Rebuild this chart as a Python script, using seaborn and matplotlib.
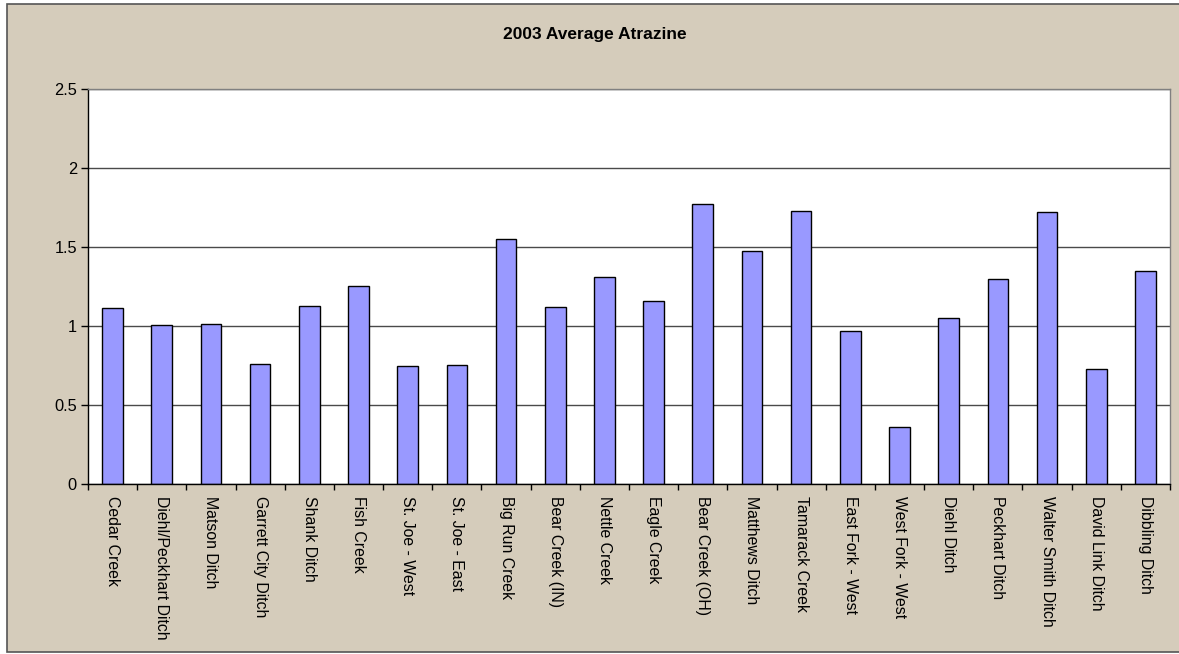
import matplotlib
matplotlib.use("Agg")
import matplotlib.pyplot as plt
from matplotlib.patches import Rectangle
from matplotlib.ticker import FixedLocator
import seaborn as sns
import pandas as pd

sites = [
    "Cedar Creek", "Diehl/Peckhart Ditch", "Matson Ditch", "Garrett City Ditch",
    "Shank Ditch", "Fish Creek", "St. Joe - West", "St. Joe - East",
    "Big Run Creek", "Bear Creek (IN)", "Nettle Creek", "Eagle Creek",
    "Bear Creek (OH)", "Matthews Ditch", "Tamarack Creek", "East Fork - West",
    "West Fork - West", "Diehl Ditch", "Peckhart Ditch", "Walter Smith Ditch",
    "David Link Ditch", "Dibbling Ditch",
]
atrazine = [
    1.117, 1.009, 1.015, 0.758, 1.129, 1.252, 0.749, 0.756,
    1.550, 1.123, 1.307, 1.161, 1.773, 1.474, 1.727, 0.971,
    0.361, 1.053, 1.298, 1.721, 0.726, 1.345,
]
y_ticks = [0, 0.5, 1, 1.5, 2, 2.5]
y_tick_labels = ["0", "0.5", "1", "1.5", "2", "2.5"]
title = "2003 Average Atrazine"

sns.set_style("white")
plt.rcParams["font.family"] = ["Liberation Sans", "DejaVu Sans"]
plt.rcParams["text.color"] = "black"
plt.rcParams["xtick.color"] = "black"
plt.rcParams["ytick.color"] = "black"
plt.rcParams["xtick.labelcolor"] = "black"
plt.rcParams["ytick.labelcolor"] = "black"

W, H = 1179, 654
fig = plt.figure(figsize=(W / 100, H / 100), dpi=100, facecolor="white")

# chart-area panel with thin border
panel_bg = "#D5CCBB"
fig.patches.append(Rectangle((7 / W, 2 / H), 1.2, (650 - 2) / H,
                             transform=fig.transFigure, facecolor=panel_bg,
                             edgecolor="#555555", linewidth=1.2, zorder=-10))

left, right, top, bottom = 88, 1170, 89, 484
ax = fig.add_axes([left / W, 1 - bottom / H, (right - left) / W, (bottom - top) / H])
ax.set_facecolor("white")

df = pd.DataFrame({"site": sites, "atrazine": atrazine})
sns.barplot(data=df, x="site", y="atrazine", color="#9999FF", saturation=1,
            edgecolor="black", linewidth=1, width=0.42, ax=ax, errorbar=None)

ax.set_xlim(-0.5, len(sites) - 0.5)
ax.set_ylim(0, 2.5)
ax.set_yticks(y_ticks)
ax.set_yticklabels(y_tick_labels, fontsize=11.8)
ax.set_xlabel("")
ax.set_ylabel("")

# horizontal gridlines behind the bars
ax.set_axisbelow(True)
ax.yaxis.grid(True, color="#4a4a4a", linewidth=1)
ax.xaxis.grid(False)

# category labels, read top-to-bottom
ax.set_xticks(range(len(sites)))
ax.set_xticklabels(sites, rotation=270, fontsize=11.4, va="top", ha="center",
                   rotation_mode="default")
ax.tick_params(axis="x", which="major", length=0, pad=9)
ax.xaxis.set_minor_locator(FixedLocator([i - 0.5 for i in range(len(sites) + 1)]))
ax.tick_params(axis="x", which="minor", direction="out", length=4.5, width=1,
               color="black", bottom=True)
ax.tick_params(axis="y", which="major", direction="out", length=5, width=1,
               color="black", pad=3, left=True)

for side in ("left", "bottom"):
    ax.spines[side].set_color("black")
    ax.spines[side].set_linewidth(1)
for side in ("top", "right"):
    ax.spines[side].set_visible(True)
    ax.spines[side].set_color("#808080")
    ax.spines[side].set_linewidth(1)

fig.text(595 / W, 1 - 34 / H, title, ha="center", va="center",
         fontsize=12.5, fontweight="bold", color="black")

fig.savefig("out.png", dpi=100, facecolor=fig.get_facecolor())
